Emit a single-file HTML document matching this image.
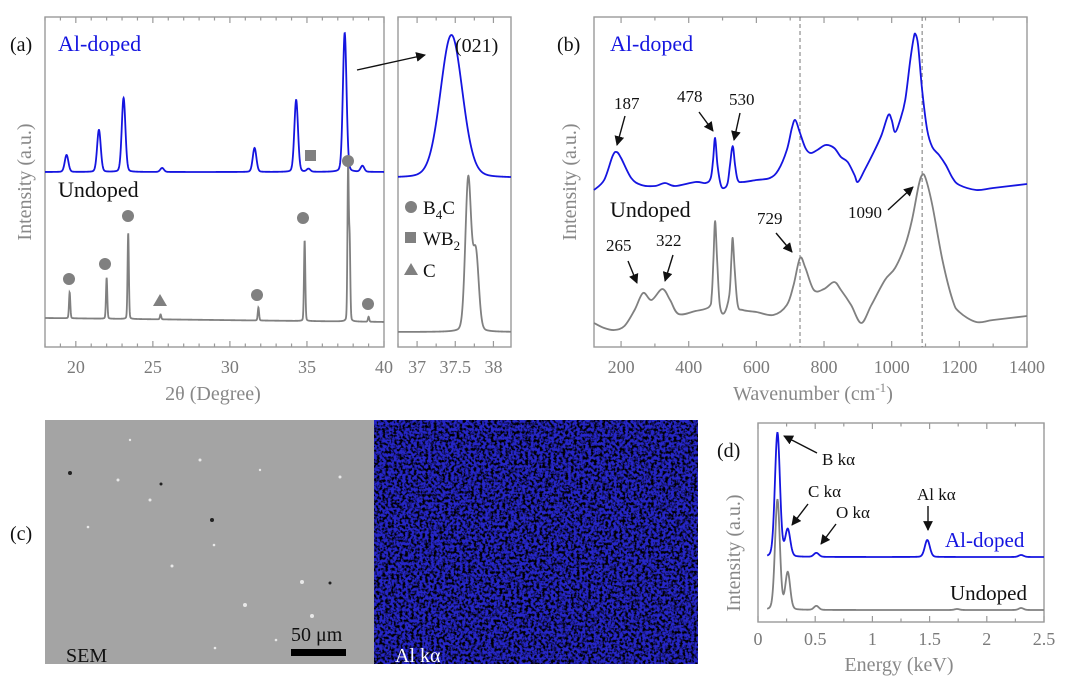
<!DOCTYPE html>
<html><head><meta charset="utf-8"><style>
body{margin:0;background:#fff;}
svg{display:block;font-family:"Liberation Serif",serif;}
.tk{fill:#7a7a7a;font-size:18px;text-anchor:middle;}
.ttl{fill:#888;font-size:20px;text-anchor:middle;}
.ann{fill:#111;font-size:17px;}
</style></head><body>
<svg id="fig" width="1080" height="696" viewBox="0 0 1080 696" xmlns="http://www.w3.org/2000/svg">
<defs>
<marker id="ah" viewBox="0 0 10 10" refX="9" refY="5" markerWidth="7" markerHeight="7" orient="auto"><path d="M0,0L10,5L0,10z" fill="#111"/></marker>
<filter id="noise" x="0" y="0" width="100%" height="100%"><feTurbulence type="fractalNoise" baseFrequency="0.35" numOctaves="2" seed="3"/><feColorMatrix values="0 0 0 0 0 0 0 0 0 0 0 0 0 0 0 -4 0 0 0 2.3"/></filter>
</defs>
<g id="a"></g><g id="b"></g><g id="d"></g>

<g>
<text x="10" y="540" font-size="20" fill="#111">(c)</text>
<rect x="45" y="420" width="329" height="244" fill="#a4a4a4"/>
<g fill="#e8e8e8">
<circle cx="118" cy="480" r="1.5"/><circle cx="150" cy="500" r="1.5"/><circle cx="200" cy="460" r="1.5"/><circle cx="260" cy="470" r="1.2"/><circle cx="172" cy="566" r="1.5"/><circle cx="245" cy="605" r="2"/><circle cx="302" cy="582" r="2"/><circle cx="88" cy="527" r="1.3"/><circle cx="215" cy="648" r="1.3"/><circle cx="340" cy="477" r="1.5"/><circle cx="312" cy="616" r="2"/><circle cx="130" cy="440" r="1.2"/><circle cx="276" cy="640" r="1.3"/><circle cx="214" cy="545" r="1.3"/>
</g>
<g fill="#222"><circle cx="70" cy="473" r="2"/><circle cx="212" cy="520" r="2"/><circle cx="330" cy="583" r="1.5"/><circle cx="161" cy="484" r="1.5"/></g>
<text x="66" y="662" font-size="20" fill="#111">SEM</text>
<text x="291" y="641" font-size="20" fill="#111">50 μm</text>
<rect x="291" y="649" width="55" height="7" fill="#000"/>
<rect x="374" y="420" width="324" height="244" fill="#2626c8"/>
<rect x="374" y="420" width="324" height="244" filter="url(#noise)"/>
<text x="395" y="662" font-size="20" fill="#fff">Al kα</text>
</g>
</svg>
<script>
// ===== Panel (a) XRD data =====
const xrdBlueCenters=[19.4,21.5,23.1,25.6,31.6,34.3,35.1,37.45,38.6];
const xrdBlueHeights=[17,42,74,4,24,72,3,139,6];
const xrdGrayCenters=[19.6,22.0,23.4,25.5,31.85,34.85,37.67,37.77,39.0];
const xrdGrayHeights=[26,41,86,5,13,81,152,77,5];
const xrdBlueBase=175, xrdGrayBase=29;
const xrdMainTicks=[20,25,30,35,40];
const xrdInsetTicks=[37,37.5,38];
// ===== Panel (b) Raman data =====
const ramanX=[120,150,175,187,200,230,260,300,330,360,420,450,465,472,478,485,495,505,515,522,530,537,545,560,600,640,665,690,705,715,728,745,760,780,805,830,850,870,890,900,920,950,970,990,1000,1010,1025,1040,1055,1065,1070,1078,1090,1105,1120,1140,1160,1180,1200,1250,1300,1400];
const ramanBlue=[157,167,191,195,189,169,162,161,164,161,165,164,169,187,209,182,162,159,164,182,201,182,167,165,167,169,177,197,219,227,215,199,194,197,202,199,190,185,172,165,177,197,212,232,227,215,227,247,287,309,313,302,257,217,200,192,182,169,162,157,159,163];
const ramanGrayX=[120,150,180,210,240,265,290,322,345,370,420,460,468,473,478,484,492,505,520,526,530,536,545,560,600,650,690,710,729,745,770,800,830,850,880,910,940,980,1010,1040,1060,1080,1090,1100,1120,1150,1180,1200,1250,1300,1400];
const ramanGray=[24,19,17,21,37,54,47,58,47,33,36,40,52,87,126,87,42,34,52,87,109,77,42,37,35,32,42,62,89,79,57,58,65,57,42,24,42,67,79,102,127,162,172,169,142,87,47,35,25,27,31];
const ramanTicks=[200,400,600,800,1000,1200,1400];
// ===== Panel (d) EDS data =====
const edsBlueCenters=[0.17,0.26,0.51,1.48,2.3];
const edsBlueHeights=[124,27,4,17,2];
const edsGrayCenters=[0.17,0.26,0.51,1.74,2.3];
const edsGrayHeights=[110,37,4,1,2];
const edsBlueBase=65, edsGrayBase=12;
const edsTicks=[0,0.5,1,1.5,2,2.5];

const NS='http://www.w3.org/2000/svg';
function mk(parent,tag,attrs){const e=document.createElementNS(NS,tag);for(const k in attrs)e.setAttribute(k,attrs[k]);parent.appendChild(e);return e;}
function lin(d0,d1,r0,r1){return v=>r0+(v-d0)*(r1-r0)/(d1-d0);}
function peaks(x,cs,hs,w,base){let s=base;for(let i=0;i<cs.length;i++){const t=(x-cs[i])/w;s+=hs[i]*(0.85*Math.exp(-0.693*t*t)+0.15/(1+t*t));}return s;}
function pathFromFn(xs,ys,fn,x0,x1,n){let d='';for(let i=0;i<=n;i++){const x=x0+(x1-x0)*i/n;d+=(i?'L':'M')+xs(x).toFixed(2)+','+ys(fn(x)).toFixed(2);}return d;}
function smoothPath(xs,ys,X,Y){const p=X.map((x,i)=>[xs(x),ys(Y[i])]);let d='M'+p[0][0]+','+p[0][1];for(let i=0;i<p.length-1;i++){const a=p[i-1]||p[i],b=p[i],c=p[i+1],e=p[i+2]||c;const c1=[b[0]+(c[0]-a[0])/6,b[1]+(c[1]-a[1])/6],c2=[c[0]-(e[0]-b[0])/6,c[1]-(e[1]-b[1])/6];d+='C'+c1[0].toFixed(2)+','+c1[1].toFixed(2)+' '+c2[0].toFixed(2)+','+c2[1].toFixed(2)+' '+c[0].toFixed(2)+','+c[1].toFixed(2);}return d;}
function frame(g,x0,y0,x1,y1){const r=mk(g,'rect',{x:x0,y:y0,width:x1-x0,height:y1-y0,fill:'none',stroke:'#9a9a9a','stroke-width':1.4});}
function ticks(g,xs,vals,minorStep,d0,d1,yb,yt,labelY,fmt){
 for(let v=Math.ceil(d0/minorStep)*minorStep;v<=d1+1e-9;v+=minorStep){const x=xs(v);const major=vals.some(t=>Math.abs(t-v)<1e-6);mk(g,'line',{x1:x,x2:x,y1:yb,y2:yb-(major?6:3.5),stroke:'#9a9a9a','stroke-width':1.2});mk(g,'line',{x1:x,x2:x,y1:yt,y2:yt+(major?6:3.5),stroke:'#9a9a9a','stroke-width':1.2});}
 vals.forEach(v=>{const t=mk(g,'text',{x:xs(v),y:labelY,class:'tk'});t.textContent=fmt?fmt(v):v;});}
function txt(g,x,y,s,attrs,name){const t=mk(g,'text',Object.assign({x:x,y:y},attrs||{}));t.textContent=s;return t;}
function arrow(g,x1,y1,x2,y2){const l=mk(g,'line',{x1,y1,x2,y2,stroke:'#111','stroke-width':1.4,'marker-end':'url(#ah)'});}

// ---- Panel a ----
const ga=document.getElementById('a');

const xa=lin(18,40,45,384), ya=v=>347-v;
const xi=lin(36.75,38.23,398,511);
frame(ga,45,17,384,347);frame(ga,398,17,511,347);
ticks(ga,xa,xrdMainTicks,1,18,40,347,17,373);
ticks(ga,xi,xrdInsetTicks,0.25,36.75,38.23,347,17,373);
const fBlue=x=>peaks(x,xrdBlueCenters,xrdBlueHeights,0.14,xrdBlueBase);
const fGray=x=>peaks(x,xrdGrayCenters,xrdGrayHeights,0.05,xrdGrayBase-(x-18)*0.18);
let p=mk(ga,'path',{d:pathFromFn(xa,ya,fGray,18,40,1600),fill:'none',stroke:'#808080','stroke-width':1.8});

p=mk(ga,'path',{d:pathFromFn(xa,ya,fBlue,18,40,1600),fill:'none',stroke:'#1515e0','stroke-width':1.8});

const fGrayI=x=>peaks(x,xrdGrayCenters,xrdGrayHeights,0.045,15);
p=mk(ga,'path',{d:pathFromFn(xi,ya,fGrayI,36.75,38.23,600),fill:'none',stroke:'#808080','stroke-width':1.8});

const fBlueI=x=>peaks(x,[37.45],[xrdBlueHeights[7]+4],0.17,169);
p=mk(ga,'path',{d:pathFromFn(xi,ya,fBlueI,36.75,38.23,600),fill:'none',stroke:'#1515e0','stroke-width':1.8});

[[69,279],[105,264],[128,216],[303,218],[257,295],[368,304],[348,161]].forEach(c=>{const m=mk(ga,'circle',{cx:c[0],cy:c[1],r:6,fill:'#808080'});});
let m=mk(ga,'rect',{x:305,y:150,width:11,height:11,fill:'#808080'});
m=mk(ga,'path',{d:'M160,294L167,306L153,306Z',fill:'#808080'});
m=mk(ga,'circle',{cx:411,cy:207,r:6,fill:'#808080'});
m=mk(ga,'rect',{x:405,y:232,width:11,height:11,fill:'#808080'});
m=mk(ga,'path',{d:'M411,263L418,275L404,275Z',fill:'#808080'});
let lt=txt(ga,423,214,'B',{'font-size':19,fill:'#111'},'legend-b4c');
let s1=mk(lt,'tspan',{'font-size':13,dy:5});s1.textContent='4';let s2=mk(lt,'tspan',{dy:-5});s2.textContent='C';
lt=txt(ga,423,245,'WB',{'font-size':19,fill:'#111'},'legend-wb2');
s1=mk(lt,'tspan',{'font-size':13,dy:5});s1.textContent='2';
txt(ga,423,277,'C',{'font-size':19,fill:'#111'},'legend-c');
txt(ga,10,51,'(a)',{'font-size':20,fill:'#111'},'panel-a-label');
txt(ga,58,51,'Al-doped',{'font-size':22,fill:'#1515e0'},'al-doped-label');
txt(ga,58,197,'Undoped',{'font-size':22,fill:'#111'},'undoped-label');
txt(ga,455,52,'(021)',{'font-size':20,fill:'#111'},'peak-021-label');
arrow(ga,357,70,425,55);
txt(ga,213,400,'2θ (Degree)',{class:'ttl'},'x-axis-title');
txt(ga,0,0,'Intensity (a.u.)',{class:'ttl',transform:'translate(31,182) rotate(-90)'},'y-axis-title');

// ---- Panel b ----
const gb=document.getElementById('b');

const xb=lin(120,1400,594,1027), yb=v=>347-v;
frame(gb,594,17,1027,347);
ticks(gb,xb,ramanTicks,100,120,1400,347,17,373);
[729,1090].forEach(v=>{const l=mk(gb,'line',{x1:xb(v),x2:xb(v),y1:17,y2:347,stroke:'#777','stroke-width':1,'stroke-dasharray':'4,3'});});
p=mk(gb,'path',{d:smoothPath(xb,yb,ramanGrayX,ramanGray),fill:'none',stroke:'#808080','stroke-width':1.8});

p=mk(gb,'path',{d:smoothPath(xb,yb,ramanX,ramanBlue),fill:'none',stroke:'#1515e0','stroke-width':1.8});

txt(gb,557,51,'(b)',{'font-size':20,fill:'#111'},'panel-b-label');
txt(gb,610,51,'Al-doped',{'font-size':22,fill:'#1515e0'},'al-doped-label');
txt(gb,610,217,'Undoped',{'font-size':22,fill:'#111'},'undoped-label');
txt(gb,614,109,'187',{class:'ann'},'peak-187-label');arrow(gb,625,116,617,145);
txt(gb,677,102,'478',{class:'ann'},'peak-478-label');arrow(gb,699,112,713,131);
txt(gb,729,105,'530',{class:'ann'},'peak-530-label');arrow(gb,740,113,734,140);
txt(gb,606,251,'265',{class:'ann'},'peak-265-label');arrow(gb,628,261,637,283);
txt(gb,656,246,'322',{class:'ann'},'peak-322-label');arrow(gb,673,255,665,281);
txt(gb,757,224,'729',{class:'ann'},'peak-729-label');arrow(gb,776,233,792,252);
txt(gb,848,218,'1090',{class:'ann'},'peak-1090-label');arrow(gb,888,210,913,187);
const tt=txt(gb,813,400,'Wavenumber (cm',{class:'ttl'},'x-axis-title');
s1=mk(tt,'tspan',{'font-size':13,dy:-8});s1.textContent='-1';s2=mk(tt,'tspan',{dy:8});s2.textContent=')';
txt(gb,0,0,'Intensity (a.u.)',{class:'ttl',transform:'translate(576,182) rotate(-90)'},'y-axis-title');

// ---- Panel d ----
const gd=document.getElementById('d');

const xd=lin(0,2.5,758,1044), yd=v=>622-v;
frame(gd,758,423,1044,622);
ticks(gd,xd,edsTicks,0.25,0,2.5,622,423,645);
const fdG=x=>peaks(x,edsGrayCenters,edsGrayHeights,0.025,edsGrayBase);
const fdB=x=>peaks(x,edsBlueCenters,edsBlueHeights,0.026,edsBlueBase);
p=mk(gd,'path',{d:pathFromFn(xd,yd,fdG,0.08,2.5,900),fill:'none',stroke:'#808080','stroke-width':1.8});

p=mk(gd,'path',{d:pathFromFn(xd,yd,fdB,0.08,2.5,900),fill:'none',stroke:'#1515e0','stroke-width':1.8});

txt(gd,717,457,'(d)',{'font-size':20,fill:'#111'},'panel-d-label');
txt(gd,822,465,'B kα',{class:'ann'},'b-ka-label');arrow(gd,817,453,784,436);
txt(gd,808,497,'C kα',{class:'ann'},'c-ka-label');arrow(gd,808,504,792,525);
txt(gd,836,518,'O kα',{class:'ann'},'o-ka-label');arrow(gd,836,524,821,544);
txt(gd,917,500,'Al kα',{class:'ann'},'al-ka-label');arrow(gd,928,506,928,530);
txt(gd,945,547,'Al-doped',{'font-size':21,fill:'#1515e0'},'al-doped-label');
txt(gd,950,600,'Undoped',{'font-size':21,fill:'#111'},'undoped-label');
txt(gd,899,671,'Energy (keV)',{class:'ttl'},'x-axis-title');
txt(gd,0,0,'Intensity (a.u.)',{class:'ttl','font-size':18,transform:'translate(740,553) rotate(-90)'},'y-axis-title');
</script>
</body></html>
